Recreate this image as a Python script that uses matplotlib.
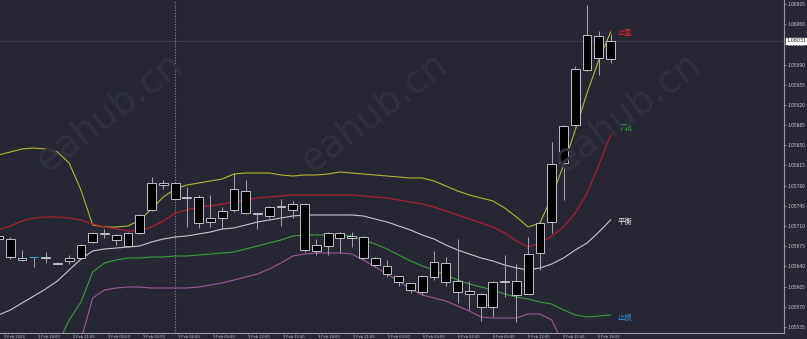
import numpy as np
import matplotlib
matplotlib.use('Agg')
import matplotlib.pyplot as plt

plt.rcParams['font.family'] = ['Noto Sans CJK SC', 'DejaVu Sans']

# candles (open, high, low, close), index 0 is the partly hidden first bar
opens = [1.05693, 1.05688, 1.05655, 1.05656, 1.05657, 1.05646, 1.05649, 1.05655, 1.05682, 1.05697,
         1.05695, 1.05675, 1.05698, 1.05738, 1.05784, 1.05785, 1.05760, 1.05760, 1.05717, 1.05724,
         1.05738, 1.05771, 1.05732, 1.05727, 1.05743, 1.05738, 1.05748, 1.05667, 1.05675, 1.05698,
         1.05689, 1.05691, 1.05655, 1.05641, 1.05623, 1.05611, 1.05596, 1.05622, 1.05646, 1.05615,
         1.05597, 1.05592, 1.05570, 1.05613, 1.05590, 1.05592, 1.05663, 1.05717, 1.05819, 1.05885,
         1.05981, 1.06040, 1.05999]
highs = [1.05695, 1.05691, 1.05668, 1.05657, 1.05665, 1.05648, 1.05660, 1.05679, 1.05700, 1.05705,
         1.05697, 1.05700, 1.05731, 1.05795, 1.05790, 1.05787, 1.05778, 1.05764, 1.05764, 1.05743,
         1.05802, 1.05790, 1.05733, 1.05745, 1.05757, 1.05753, 1.05750, 1.05688, 1.05700, 1.05700,
         1.05700, 1.05693, 1.05656, 1.05651, 1.05624, 1.05612, 1.05625, 1.05667, 1.05656, 1.05688,
         1.05615, 1.05594, 1.05615, 1.05660, 1.05644, 1.05691, 1.05717, 1.05856, 1.05886, 1.05988,
         1.06093, 1.06048, 1.06043]
lows = [1.05686, 1.05653, 1.05649, 1.05639, 1.05646, 1.05644, 1.05644, 1.05653, 1.05680, 1.05689,
        1.05677, 1.05674, 1.05696, 1.05736, 1.05774, 1.05755, 1.05708, 1.05707, 1.05708, 1.05705,
        1.05734, 1.05731, 1.05705, 1.05724, 1.05710, 1.05724, 1.05665, 1.05660, 1.05660, 1.05663,
        1.05674, 1.05653, 1.05641, 1.05622, 1.05606, 1.05594, 1.05590, 1.05617, 1.05606, 1.05577,
        1.05564, 1.05545, 1.05552, 1.05587, 1.05544, 1.05592, 1.05634, 1.05698, 1.05755, 1.05883,
        1.05979, 1.05972, 1.05993]
closes = [1.05688, 1.05656, 1.05651, 1.05656, 1.05655, 1.05645, 1.05655, 1.05677, 1.05698, 1.05696,
          1.05686, 1.05698, 1.05729, 1.05785, 1.05782, 1.05757, 1.05758, 1.05715, 1.05724, 1.05736,
          1.05774, 1.05733, 1.05731, 1.05743, 1.05745, 1.05748, 1.05668, 1.05677, 1.05698, 1.05689,
          1.05693, 1.05655, 1.05643, 1.05627, 1.05613, 1.05599, 1.05623, 1.05648, 1.05613, 1.05596,
          1.05592, 1.05570, 1.05613, 1.05614, 1.05615, 1.05662, 1.05715, 1.05818, 1.05884, 1.05982,
          1.06041, 1.06001, 1.06031]

# indicator lines, read at each bar (pixel rows of the reference, converted below)
upper_px = [155, 152, 149, 148, 149, 152, 163, 190, 225, 227, 227, 226, 220, 209, 197, 189, 185, 183,
            181, 179, 174, 173, 173, 173, 175, 176, 175, 175, 174, 172, 173, 174, 175, 176, 177, 178,
            178, 181, 186, 191, 195, 198, 201, 208, 217, 227, 223, 197, 165, 130, 93, 60, 32]
red_px = [230, 226, 221, 218, 217, 217, 218, 220, 224, 227, 229, 231, 231, 227, 221, 213, 210, 207,
          206, 204, 202, 200, 198, 197, 196, 195, 195, 195, 195, 195, 195, 196, 197, 198, 200, 202,
          204, 207, 211, 215, 219, 223, 227, 233, 241, 247, 243, 236, 227, 213, 193, 165, 135]
mid_px = [315, 310, 303, 296, 289, 281, 270, 259, 251, 249, 248, 247, 246, 242, 239, 237, 236, 234,
          232, 229, 228, 225, 222, 220, 218, 216, 215, 215, 215, 215, 215, 216, 219, 222, 226, 230,
          235, 239, 245, 250, 254, 258, 261, 265, 268, 270, 268, 264, 258, 250, 243, 232, 220]
green_px = [None, None, None, None, None, 345, 320, 302, 272, 263, 260, 258, 258, 257, 257, 256, 256,
            255, 254, 253, 252, 249, 246, 243, 240, 236, 235, 235, 235, 235, 236, 240, 244, 249, 255,
            261, 266, 270, 275, 280, 284, 287, 290, 294, 297, 299, 302, 304, 310, 315, 317, 316, 315]
purple_px = [None, None, None, None, None, None, None, 340, 298, 290, 288, 287, 287, 288, 288, 288,
             288, 287, 285, 283, 280, 277, 274, 269, 263, 256, 254, 253, 253, 253, 254, 260, 267, 274,
             281, 289, 295, 298, 301, 306, 311, 317, 318, 318, 318, 314, 314, 320, 345, None, None,
             None, None]

y_ticks = [1.05535 + 0.00035 * k for k in range(17)]
x_labels = ['2 Feb 2023', '2 Feb 18:00', '2 Feb 21:00', '3 Feb 00:00', '3 Feb 03:00', '3 Feb 06:00',
            '3 Feb 09:00', '3 Feb 12:00', '3 Feb 15:00', '3 Feb 18:00', '3 Feb 21:00', '6 Feb 00:00',
            '6 Feb 03:00', '6 Feb 06:00', '6 Feb 09:00', '6 Feb 12:00', '6 Feb 15:00', '6 Feb 18:00']
line_labels = ['止盈', '下轨', '平衡', '止损']
last_price = 1.06031


def px2price(v):
    if v is None:
        return np.nan
    return 1.05535 + (327 - v) / 57680.0


bg = '#272733'
fig = plt.figure(figsize=(8.07, 3.39), dpi=100, facecolor=bg)
ax = fig.add_axes([0, 6 / 339, 784 / 807, 333 / 339])
ax.set_facecolor(bg)

n = len(opens)
idx = np.arange(n)

# watermark
for xp in [110, 375, 628]:
    fig.text(xp / 807, 1 - 112 / 339, 'eahub.cn', fontsize=27, color='#31323f', rotation=37,
             ha='center', va='center', family='DejaVu Sans', zorder=0)

# crosshair
ax.axhline(last_price, color='#3e3e4c', lw=0.8, zorder=1)
ax.axvline(15, color='#8a8a96', lw=0.8, ls=(0, (1, 1.5)), zorder=1)

# indicator lines
ax.plot(idx, [px2price(v) for v in upper_px], color='#b5b53a', lw=0.8, zorder=2)
ax.plot(idx, [px2price(v) for v in red_px], color='#a82030', lw=0.9, zorder=2)
ax.plot(idx, [px2price(v) for v in mid_px], color='#c8c8d0', lw=0.8, zorder=2)
ax.plot(idx, [px2price(v) for v in green_px], color='#3f9a40', lw=0.8, zorder=2)
ax.plot(idx, [px2price(v) for v in purple_px], color='#9a5a9a', lw=0.8, zorder=2)

# candles
o = np.array(opens)
c = np.array(closes)
ax.vlines(idx, lows, highs, color='#a8a8b0', lw=0.7, zorder=3)
bottoms = np.minimum(o, c)
heights = np.maximum(np.abs(c - o), 0.000012)
edge = ['#3ab0e0' if i == 3 else '#c0c0c8' for i in idx]
ax.bar(idx, heights, bottom=bottoms, width=0.75, color='black', edgecolor=edge, lw=0.7, zorder=4)

# level labels
lab_y = [px2price(33), px2price(128), px2price(222), px2price(318)]
lab_c = ['#e02828', '#2ccf2c', '#e8e8e8', '#3a8ee0']
for t, yv, col in zip(line_labels, lab_y, lab_c):
    ax.text(52.6, yv, t, color=col, fontsize=5.3, va='center', ha='left', zorder=5)

ax.set_xlim(0.125, 66.73)
ax.set_ylim(px2price(333), px2price(0))

# axes styling
for s in ['top', 'left']:
    ax.spines[s].set_visible(False)
for s in ['right', 'bottom']:
    ax.spines[s].set_color('#9a9aa6')
    ax.spines[s].set_linewidth(0.8)

ax.yaxis.tick_right()
ax.set_yticks(y_ticks)
ax.set_yticklabels(['%.5f' % v for v in y_ticks])
ax.tick_params(axis='y', colors='#9a9aa6', labelcolor='#d0d0d8', labelsize=3.5, length=1.5,
               width=0.6, pad=0.8)

xt = np.arange(0.125 + 0.3, 52.5, 2.97)[:len(x_labels)]
ax.set_xticks(xt)
ax.set_xticklabels(x_labels, ha='left')
ax.tick_params(axis='x', colors='#9a9aa6', labelcolor='#c8c8d0', labelsize=3.0, length=1,
               width=0.6, pad=0.2)

# current price marker
ax.annotate('%.5f' % last_price, xy=(1.0, last_price), xycoords=('axes fraction', 'data'),
            xytext=(1.5, 0), textcoords='offset points', fontsize=3.5, va='center', ha='left',
            color='#202028', family='DejaVu Sans',
            bbox=dict(boxstyle='square,pad=0.1', fc='white', ec='white'), zorder=6,
            annotation_clip=False)

fig.savefig('out.png', dpi=100, facecolor=bg)
